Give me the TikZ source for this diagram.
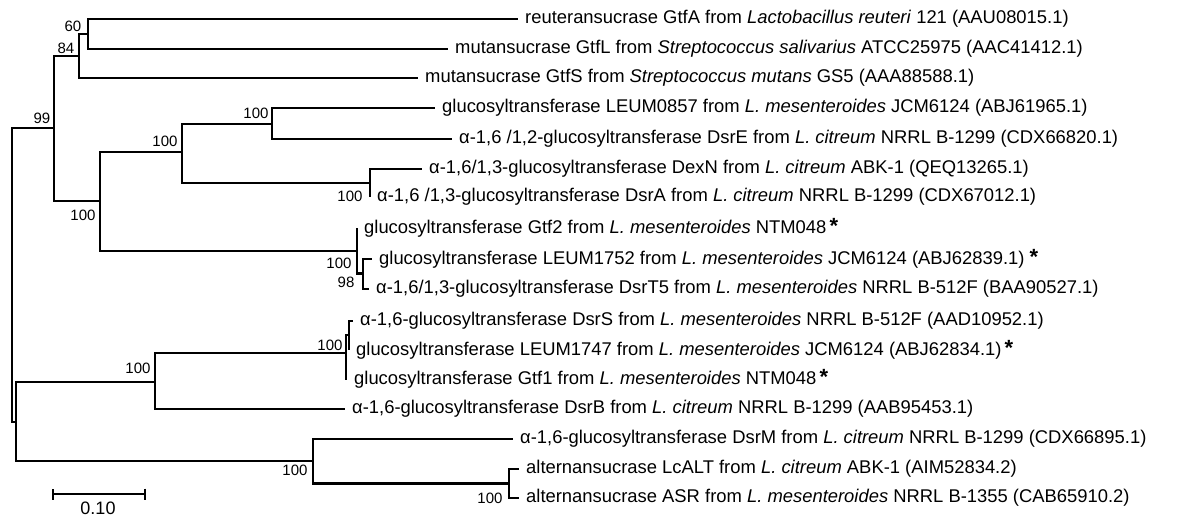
\documentclass[tikz,border=0pt]{standalone}
\usepackage{fontspec}
\setmainfont{Liberation Sans}
\usetikzlibrary{arrows.meta}
\newcommand{\newgtf}{{\fontsize{22}{22}\selectfont\bfseries *}}

\begin{document}
\begin{tikzpicture}[x=1pt,y=-1pt,line width=2.4pt,
    leaf/.style={anchor=west,inner sep=0pt,xshift=6pt,font=\fontsize{18.4}{20}\selectfont},
    boot/.style={inner sep=0pt,font=\fontsize{15}{17}\selectfont}]
    \useasboundingbox (0,0) rectangle (1189,518);
    % inner nodes of the tree
    \coordinate (root) at (12,275);
    \coordinate (n99) at (54,128);
    \coordinate (n84) at (79,56);
    \coordinate (n60) at (88,34);
    \coordinate (n100a) at (100,201);
    \coordinate (n100b) at (182,152);
    \coordinate (n100d) at (272,124);
    \coordinate (n100e) at (370,183);
    \coordinate (n100c) at (357,251);
    \coordinate (n98) at (363,273.5);
    \coordinate (nlow) at (16,422);
    \coordinate (n100f) at (155,382);
    \coordinate (n100h) at (346,353);
    \coordinate (ni) at (349,335);
    \coordinate (n100g) at (313,461);
    \coordinate (n100j) at (509,483.5);
    % tips of the leaves
    \coordinate (l1) at (518,19);
    \coordinate (l2) at (448,49);
    \coordinate (l3) at (418,78);
    \coordinate (l4) at (435,108);
    \coordinate (l5) at (452,139);
    \coordinate (l6) at (422,169);
    \coordinate (l7) at (370,197);
    \coordinate (l8) at (357,228);
    \coordinate (l9) at (372,259);
    \coordinate (l10) at (369,289);
    \coordinate (l11) at (353,321);
    \coordinate (l12) at (349,350);
    \coordinate (l13) at (347,379);
    \coordinate (l14) at (345,409);
    \coordinate (l15) at (513,439);
    \coordinate (l16) at (519,469);
    \coordinate (l17) at (519,498);
    % branches
    \draw (root) |- (n99);
    \draw (root) |- (nlow);
    \draw (n99) |- (n84);
    \draw (n99) |- (n100a);
    \draw (n84) |- (n60);
    \draw (n84) |- (l3);
    \draw (n60) |- (l1);
    \draw (n60) |- (l2);
    \draw (n100a) |- (n100b);
    \draw (n100a) |- (n100c);
    \draw (n100b) |- (n100d);
    \draw (n100b) |- (n100e);
    \draw (n100d) |- (l4);
    \draw (n100d) |- (l5);
    \draw (n100e) |- (l6);
    \draw (n100e) |- (l7);
    \draw (n100c) |- (l8);
    \draw (n100c) |- (n98);
    \draw (n98) |- (l9);
    \draw (n98) |- (l10);
    \draw (nlow) |- (n100f);
    \draw (nlow) |- (n100g);
    \draw (n100f) |- (n100h);
    \draw (n100f) |- (l14);
    \draw (n100h) |- (ni);
    \draw (n100h) |- (l13);
    \draw (ni) |- (l11);
    \draw (ni) |- (l12);
    \draw (n100g) |- (l15);
    \draw (n100g) |- (n100j);
    \draw (n100j) |- (l16);
    \draw (n100j) |- (l17);
    % leaf names
    \node[leaf] (t1) at (l1) {reuteransucrase GtfA from \textit{Lactobacillus reuteri} 121 (AAU08015.1)};
    \node[leaf] (t2) at (l2) {mutansucrase GtfL from \textit{Streptococcus salivarius} ATCC25975 (AAC41412.1)};
    \node[leaf] (t3) at (l3) {mutansucrase GtfS from \textit{Streptococcus mutans} GS5 (AAA88588.1)};
    \node[leaf] (t4) at (l4) {glucosyltransferase LEUM0857 from \textit{L. mesenteroides} JCM6124 (ABJ61965.1)};
    \node[leaf] (t5) at (l5) {α-1,6 /1,2-glucosyltransferase DsrE from \textit{L. citreum} NRRL B-1299 (CDX66820.1)};
    \node[leaf] (t6) at (l6) {α-1,6/1,3-glucosyltransferase DexN from \textit{L. citreum} ABK-1 (QEQ13265.1)};
    \node[leaf] (t7) at (l7) {α-1,6 /1,3-glucosyltransferase DsrA from \textit{L. citreum} NRRL B-1299 (CDX67012.1)};
    \node[leaf] (t8) at (l8) {glucosyltransferase Gtf2 from \textit{L. mesenteroides} NTM048\,\newgtf};
    \node[leaf] (t9) at (l9) {glucosyltransferase LEUM1752 from \textit{L. mesenteroides} JCM6124 (ABJ62839.1) \newgtf};
    \node[leaf] (t10) at (l10) {α-1,6/1,3-glucosyltransferase DsrT5 from \textit{L. mesenteroides} NRRL B-512F (BAA90527.1)};
    \node[leaf] (t11) at (l11) {α-1,6-glucosyltransferase DsrS from \textit{L. mesenteroides} NRRL B-512F (AAD10952.1)};
    \node[leaf] (t12) at (l12) {glucosyltransferase LEUM1747 from \textit{L. mesenteroides} JCM6124 (ABJ62834.1)\,\newgtf};
    \node[leaf] (t13) at (l13) {glucosyltransferase Gtf1 from \textit{L. mesenteroides} NTM048\,\newgtf};
    \node[leaf] (t14) at (l14) {α-1,6-glucosyltransferase DsrB from \textit{L. citreum} NRRL B-1299 (AAB95453.1)};
    \node[leaf] (t15) at (l15) {α-1,6-glucosyltransferase DsrM from \textit{L. citreum} NRRL B-1299 (CDX66895.1)};
    \node[leaf] (t16) at (l16) {alternansucrase LcALT from \textit{L. citreum} ABK-1 (AIM52834.2)};
    \node[leaf] (t17) at (l17) {alternansucrase ASR from \textit{L. mesenteroides} NRRL B-1355 (CAB65910.2)};
    % bootstrap values
    \node[boot] (b60) at (73,26) {60};
    \node[boot] (b84) at (66,48) {84};
    \node[boot] (b99) at (42,118) {99};
    \node[boot] (b100d) at (256,113) {100};
    \node[boot] (b100b) at (165,141) {100};
    \node[boot] (b100a) at (83,215) {100};
    \node[boot] (b100e) at (350,196) {100};
    \node[boot] (b100c) at (339,263) {100};
    \node[boot] (b98) at (346,282) {98};
    \node[boot] (b100f) at (138,368) {100};
    \node[boot] (b100h) at (330,345) {100};
    \node[boot] (b100g) at (295,470) {100};
    \node[boot] (b100j) at (490,498) {100};
    % scale bar
    \coordinate (sb1) at (52,494);
    \coordinate (sb2) at (146,494);
    \draw[{Bar[width=11pt]}-{Bar[width=11pt]}] (sb1) -- (sb2);
    \node[font=\fontsize{18}{20}\selectfont,inner sep=0pt] (sblabel) at (98,508) {0.10};
\end{tikzpicture}
\end{document}
